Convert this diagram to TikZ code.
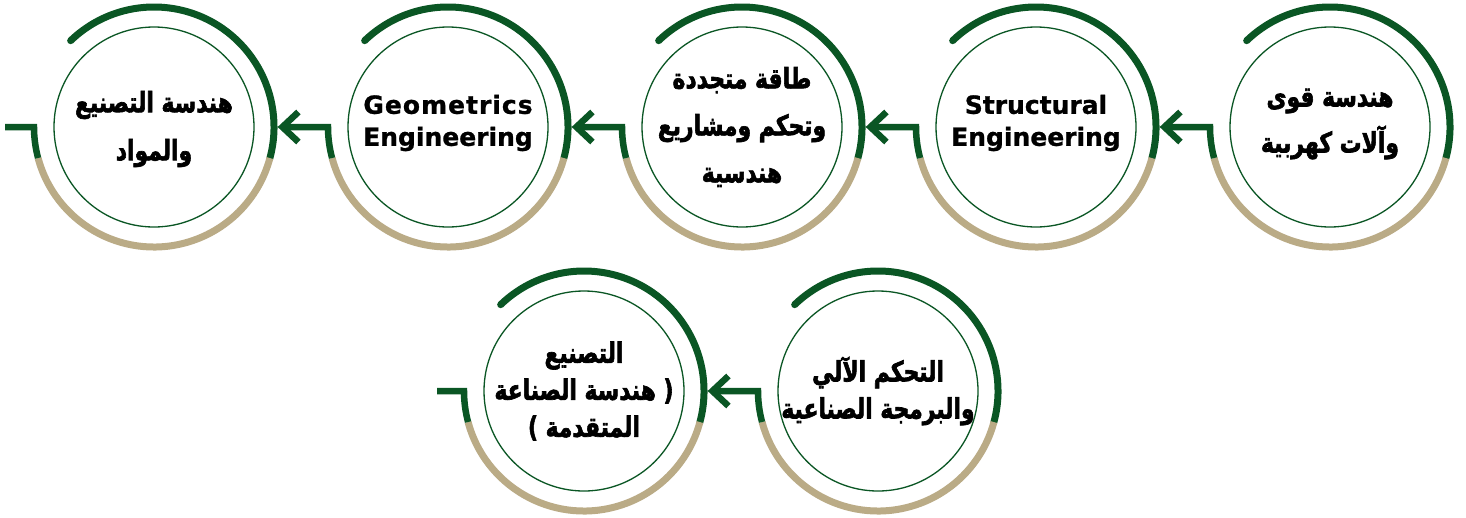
\documentclass[tikz,border=0pt]{standalone}
\usepackage{fontspec}
\TeXXeTstate=1
\newfontfamily\arabicfont[Script=Arabic, BoldFeatures={FakeBold=2.5}]{DejaVu Sans}
\newfontfamily\latinfont[BoldFeatures={FakeBold=1}]{DejaVu Sans}
\usetikzlibrary{arrows.meta,calc}
\definecolor{dgreen}{RGB}{10,86,36}
\definecolor{ringtan}{RGB}{186,171,134}
\tikzset{
  inner/.style={circle, draw=dgreen, line width=1.3pt, fill=white, minimum size=200pt, inner sep=0pt},
  artext/.style={align=center, inner sep=0pt, transform shape, xscale=0.78, font=\arabicfont\bfseries\fontsize{28}{#1}\selectfont},
  artext/.default=45,
  entext/.style={align=center, inner sep=0pt, font=\latinfont\bfseries\fontsize{25}{32}\selectfont},
  greenring/.style={draw=dgreen, line width=7pt, line cap=round},
  tanring/.style={draw=ringtan, line width=7pt},
  link/.style={draw=dgreen, line width=6.5pt, line join=miter},
  arrowed/.style={-{Straight Barb[length=16pt,width=30pt]}}
}
\newcommand\myring[1]{%
  \draw[greenring] ([shift={(-15:120pt)}]#1.center) arc[start angle=-15,end angle=134,radius=120pt];
  \draw[tanring] ([shift={(195:120pt)}]#1.center) arc[start angle=195,end angle=345,radius=120pt];}
\newcommand\mylink[2]{%
  \draw[link,arrowed] ([shift={(195:120pt)}]#1.center) arc[start angle=195,end angle=180,radius=120pt] -- ([xshift=23pt]#2.east);}
\newcommand\myend[2]{%
  \draw[link] ([shift={(195:120pt)}]#1.center) arc[start angle=195,end angle=180,radius=120pt] -- (#2);}
\begin{document}
\begin{tikzpicture}[x=1pt,y=1pt]
  \useasboundingbox (0,0) rectangle (1466,-517);
  \node[inner] (c1) at (1330,-127) {};
  \node[inner] (c2) at (1036,-127) {};
  \node[inner] (c3) at (742,-127) {};
  \node[inner] (c4) at (448,-127) {};
  \node[inner] (c5) at (154,-127) {};
  \node[inner] (c6) at (878,-391) {};
  \node[inner] (c7) at (584,-391) {};
  \node[artext=46] (t1) at ([yshift=3pt]c1.center) {\beginR هندسة قوى\endR\\\beginR وآلات كهربية\endR};
  \node[entext] (t2) at ([yshift=4pt]c2.center) {Structural\\Engineering};
  \node[artext=47] (t3) at ([yshift=0pt]c3.center) {\beginR طاقة متجددة\endR\\\beginR وتحكم ومشاريع\endR\\\beginR هندسية\endR};
  \node[entext] (t4) at ([yshift=4pt]c4.center) {\addfontfeature{LetterSpace=4}Geometrics\\Engineering};
  \node[artext=48] (t5) at ([yshift=-2pt]c5.center) {\beginR هندسة التصنيع\endR\\\beginR والمواد\endR};
  \node[artext=37] (t6) at ([yshift=0pt]c6.center) {\beginR التحكم الآلي\endR\\\beginR والبرمجة الصناعية\endR};
  \node[artext=37] (t7) at ([yshift=0pt]c7.center) {\beginR التصنيع\endR\\\beginR هندسة الصناعة\endR{} (\\) \beginR المتقدمة\endR};
  \coordinate (e5) at (5,-127);
  \coordinate (e7) at (437,-391);
  \foreach \n in {c1,c2,c3,c4,c5,c6,c7} {\myring{\n}}
  \mylink{c1}{c2}
  \mylink{c2}{c3}
  \mylink{c3}{c4}
  \mylink{c4}{c5}
  \myend{c5}{e5}
  \mylink{c6}{c7}
  \myend{c7}{e7}
\end{tikzpicture}
\end{document}
